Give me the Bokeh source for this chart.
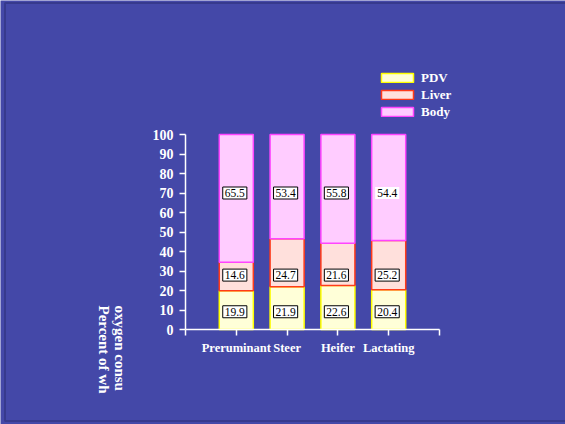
from math import pi

from bokeh.core.properties import value
from bokeh.embed import file_html
from bokeh.models import BoxAnnotation, ColumnDataSource, FixedTicker, Label, Legend, LegendItem
from bokeh.plotting import figure
from bokeh.resources import INLINE

# --- data -------------------------------------------------------------
categories = ["Preruminant", "Steer", "Heifer", "Lactating"]
pdv = [19.9, 21.9, 22.6, 20.4]
liver = [14.6, 24.7, 21.6, 25.2]
body = [65.5, 53.4, 55.8, 54.4]
y_ticks = [0, 10, 20, 30, 40, 50, 60, 70, 80, 90, 100]
series = ["PDV", "Liver", "Body"]

# --- geometry & style ---------------------------------------------------
W, H = 565, 424
BG = "#4448A8"
FONT = "Liberation Serif"
OX, OY = 185, 329               # canvas pixel of the axes' origin
PX_X, PX_Y = 50.8, 1.95         # pixels per data unit

fills = ["#FFFFD8", "#FFE0DC", "#FFCCFF"]
edges = ["#FFFF00", "#FF3A1A", "#FF44FF"]


def dx(px):
    """canvas x pixel -> data x"""
    return (px - OX) / PX_X


def dy(py):
    """canvas y pixel (from top) -> data y"""
    return (OY - py) / PX_Y


xs = [i + 1 for i in range(len(categories))]
n_slots = len(categories) + 1

p = figure(
    width=W, height=H,
    x_range=(dx(0), dx(W)), y_range=(dy(H), dy(0)),
    output_backend="svg", toolbar_location=None,
    min_border=0, min_border_left=0, min_border_right=0,
    min_border_top=0, min_border_bottom=0,
    background_fill_color=BG, border_fill_color=BG,
    outline_line_color=None,
)
p.grid.visible = False

src = ColumnDataSource(dict(x=xs, PDV=pdv, Liver=liver, Body=body))
rs = p.vbar_stack(series, x="x", width=0.67, source=src,
                  fill_color=fills, line_color=edges, line_width=1.5)

# value boxes inside the bars
label_levels = [9.1, 27.9, 70.0]
lx, ly, lt, la = [], [], [], []
for level, vals in zip(label_levels, [pdv, liver, body]):
    for x, v in zip(xs, vals):
        lx.append(x)
        ly.append(level)
        lt.append(f"{v:.1f}")
        la.append(1.0)
la[-1] = 0.0  # last body box is drawn without a frame
lsrc = ColumnDataSource(dict(x=lx, y=ly, text=lt, a=la))
p.text(x="x", y="y", text="text", source=lsrc,
       text_font=value(FONT), text_font_size="11.5px", text_color="black",
       text_align="center", text_baseline="middle", x_offset=-1.5,
       background_fill_color="white", border_line_color="black",
       border_line_alpha="a", border_line_width=1, padding=2)

# axes pinned at the data origin
axis_style = dict(axis_line_color="white", axis_line_width=1.5,
                  major_tick_line_color="white", major_tick_line_width=1.5,
                  major_tick_in=0, major_tick_out=6,
                  minor_tick_line_color=None,
                  major_label_text_color="white",
                  major_label_text_font=FONT,
                  major_label_text_font_style="bold",
                  fixed_location=0)
for ax in (p.xaxis[0], p.yaxis[0]):
    for k, v in axis_style.items():
        setattr(ax, k, v)

p.yaxis.ticker = FixedTicker(ticks=y_ticks)
p.yaxis.bounds = (0, 100)
p.yaxis.major_label_standoff = 6
p.yaxis.major_label_text_font_size = "14px"

p.xaxis.ticker = FixedTicker(ticks=list(range(n_slots + 1)))
p.xaxis.bounds = (0, n_slots)
overrides = {i: "" for i in range(n_slots + 1)}
overrides.update({x: c for x, c in zip(xs, categories)})
p.xaxis.major_label_overrides = overrides
p.xaxis.major_label_standoff = 5
p.xaxis.major_label_text_font_size = "12.5px"

# legend
legend = Legend(
    items=[LegendItem(label=s, renderers=[r]) for s, r in zip(series, rs)],
    location=(377, H - 120),
    background_fill_alpha=0, border_line_color=None,
    padding=0, margin=0, spacing=0,
    glyph_width=40, glyph_height=11, label_standoff=4, label_height=17,
    label_text_color="white", label_text_font=FONT,
    label_text_font_style="bold", label_text_font_size="13px",
)
p.add_layout(legend)

# rotated axis title (reads top to bottom)
for text, px in [("oxygen consu", 119), ("Percent of wh", 103)]:
    p.add_layout(Label(x=dx(px), y=dy(305), text=text, angle=-pi / 2,
                       text_align="left", text_baseline="middle",
                       text_color="white", text_font=FONT,
                       text_font_style="bold", text_font_size="15px"))

# slide frame
p.add_layout(BoxAnnotation(left=dx(4.5), right=dx(W + 10), top=dy(2.5),
                           bottom=dy(420.5), fill_alpha=0,
                           line_color="#1C1C4E", line_width=2))

open("out.html", "w").write(file_html(p, INLINE))
